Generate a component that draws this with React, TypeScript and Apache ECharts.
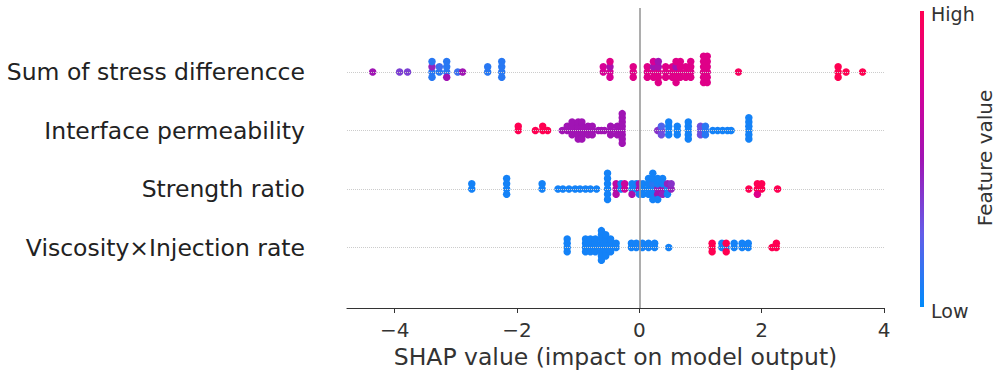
import { useEffect, useRef } from "react";
import * as echarts from "echarts";

const features = [
  "Sum of stress differencce",
  "Interface permeability",
  "Strength ratio",
  "Viscosity×Injection rate",
];
const xTicks = [-4, -2, 0, 2, 4];

// Row 1: Sum of stress difference
const stressShap = [
  -4.36, -3.92, -3.79, -3.39, -3.39, -3.39, -3.39, -3.27, -3.27, -3.15, -3.15, -3.15, -3.15,
  -2.97, -2.89, -2.48, -2.48, -2.25, -2.25, -2.25, -2.25,
  -0.59, -0.59, -0.48, -0.48, -0.48, -0.48, -0.1, -0.1, -0.1,
  0.13, 0.13, 0.13, 0.23, 0.23, 0.23, 0.23, 0.31, 0.31, 0.31, 0.31, 0.31,
  0.43, 0.43, 0.43, 0.54, 0.54, 0.54, 0.6, 0.6, 0.6, 0.6, 0.6,
  0.67, 0.67, 0.67, 0.67, 0.76, 0.76, 0.76, 0.84, 0.84, 0.84, 0.84,
  1.05, 1.05, 1.05, 1.05, 1.05, 1.05, 1.11, 1.11, 1.11, 1.11, 1.11, 1.11,
  1.62, 3.25, 3.25, 3.25, 3.38, 3.65,
];
const stressFeat = [
  0.5, 0.35, 0.35, 0.1, 0.45, 0.1, 0.1, 0.1, 0.15, 0.1, 0.1, 0.5, 0.1,
  0.15, 0.5, 0.1, 0.1, 0.1, 0.1, 0.1, 0.1,
  0.75, 0.75, 0.75, 0.55, 0.75, 0.8, 0.8, 0.8, 0.8,
  0.8, 0.8, 0.8, 0.8, 0.5, 0.8, 0.75, 0.8, 0.55, 0.8, 0.5, 0.8,
  0.8, 0.8, 0.8, 0.8, 0.8, 0.8, 0.8, 0.5, 0.8, 0.8, 0.8,
  0.8, 0.8, 0.8, 0.8, 0.8, 0.8, 0.8, 0.8, 0.8, 0.8, 0.8,
  0.8, 0.8, 0.8, 0.8, 0.8, 0.8, 0.8, 0.8, 0.8, 0.8, 0.8, 0.8,
  0.95, 1, 1, 1, 1, 1,
];

// Row 2: Interface permeability
const permShap = [
  -1.98, -1.98, -1.7, -1.58, -1.58, -1.5,
  -1.26, -1.18, -1.18, -1.1, -1.1, -1.1, -1.1, -1.0, -1.0, -1.0, -1.0, -1.0,
  -0.94, -0.94, -0.94, -0.94, -0.94, -0.84, -0.84, -0.84, -0.77, -0.77, -0.77,
  -0.67, -0.62, -0.57, -0.47, -0.47, -0.47, -0.36, -0.36, -0.36,
  -0.28, -0.28, -0.28, -0.28, -0.28, -0.28, -0.28, -0.28,
  0.3, 0.36, 0.36, 0.36, 0.48, 0.48, 0.48, 0.48, 0.62, 0.62, 0.62,
  0.8, 0.8, 0.8, 0.8, 0.8, 1.0, 1.0, 1.0, 1.08, 1.08, 1.08,
  1.2, 1.28, 1.36, 1.44, 1.5, 1.79, 1.79, 1.79, 1.79, 1.79, 1.79,
];
const permFeat = [
  1, 1, 1, 1, 1, 1,
  0.5, 0.5, 0.5, 0.5, 0.5, 0.5, 0.5, 0.5, 0.5, 0.5, 0.5, 0.5,
  0.5, 0.5, 0.5, 0.5, 0.5, 0.5, 0.5, 0.5, 0.5, 0.5, 0.5,
  0.5, 0.5, 0.5, 0.5, 0.5, 0.5, 0.5, 0.5, 0.5,
  0.5, 0.5, 0.5, 0.5, 0.5, 0.5, 0.5, 0.5,
  0.4, 0.35, 0.2, 0.3, 0.05, 0.05, 0.05, 0.05, 0.05, 0.05, 0.05,
  0.05, 0.05, 0.05, 0.05, 0.05, 0.3, 0.3, 0.3, 0.1, 0.1, 0.1,
  0.05, 0.05, 0.05, 0.05, 0.05, 0.05, 0.05, 0.05, 0.05, 0.05, 0.05,
];

// Row 3: Strength ratio
const strengthShap = [
  -2.74, -2.74, -2.17, -2.17, -2.17, -2.17, -1.59, -1.59,
  -1.33, -1.25, -1.15, -1.05, -0.97, -0.88, -0.8, -0.7,
  -0.52, -0.52, -0.52, -0.52, -0.52, -0.52,
  -0.38, -0.38, -0.38, -0.3, -0.3, -0.24, -0.24, -0.12, -0.12, -0.12, -0.05, -0.05,
  0.0, 0.0, 0.0, 0.06, 0.06, 0.06, 0.15, 0.15, 0.15, 0.15,
  0.22, 0.22, 0.22, 0.22, 0.22, 0.22, 0.3, 0.3, 0.3, 0.3, 0.3,
  0.38, 0.38, 0.38, 0.38, 0.46, 0.46, 0.46, 0.52, 0.52,
  1.79, 1.93, 1.93, 1.93, 2.0, 2.0, 2.26,
];
const strengthFeat = [
  0.05, 0.05, 0.05, 0.05, 0.05, 0.05, 0.05, 0.05,
  0.05, 0.05, 0.05, 0.05, 0.05, 0.05, 0.05, 0.05,
  0.05, 0.05, 0.05, 0.05, 0.05, 0.05,
  0.6, 0.65, 0.6, 0.05, 0.05, 0.7, 0.7, 0.05, 0.05, 0.55, 0.05, 0.05,
  0.55, 0.5, 0.05, 0.05, 0.05, 0.05, 0.05, 0.05, 0.05, 0.05,
  0.05, 0.1, 0.05, 0.05, 0.05, 0.05, 0.45, 0.05, 0.5, 0.05, 0.05,
  0.5, 0.05, 0.45, 0.05, 0.05, 0.45, 0.05, 0.45, 0.4,
  1, 1, 1, 0.8, 1, 1, 1,
];

// Row 4: Viscosity x Injection rate
const viscShap = [
  -1.18, -1.18, -1.18, -1.18, -0.88, -0.88, -0.88, -0.88, -0.8, -0.8, -0.8, -0.8,
  -0.72, -0.72, -0.72, -0.72, -0.62, -0.62, -0.62, -0.62, -0.62, -0.62, -0.62, -0.62,
  -0.55, -0.55, -0.55, -0.55, -0.55, -0.55, -0.47, -0.47, -0.47, -0.47, -0.38, -0.38,
  -0.13, -0.13, -0.05, -0.05, 0.05, 0.05, 0.15, 0.15, 0.25, 0.25, 0.48,
  1.19, 1.19, 1.19, 1.35, 1.35, 1.42, 1.42, 1.42, 1.55, 1.55, 1.68, 1.68, 1.78, 1.78,
  2.17, 2.24, 2.24,
];
const viscFeat = [
  0.05, 0.05, 0.05, 0.05, 0.05, 0.05, 0.05, 0.05, 0.05, 0.05, 0.05, 0.05,
  0.05, 0.05, 0.05, 0.05, 0.05, 0.05, 0.05, 0.05, 0.05, 0.05, 0.05, 0.05,
  0.05, 0.05, 0.05, 0.05, 0.05, 0.05, 0.05, 0.05, 0.05, 0.05, 0.05, 0.05,
  0.05, 0.05, 0.05, 0.05, 0.05, 0.05, 0.05, 0.05, 0.05, 0.05, 0.05,
  1, 1, 1, 0.05, 0.05, 0.05, 1, 1, 0.05, 0.05, 0.05, 0.05, 0.05, 0.05,
  1, 1, 1,
];

const rowShap = [stressShap, permShap, strengthShap, viscShap];
const rowFeat = [stressFeat, permFeat, strengthFeat, viscFeat];

const colorStops: [number, number[]][] = [
  [0, [0, 139, 251]],
  [0.25, [100, 92, 232]],
  [0.5, [160, 20, 180]],
  [0.75, [215, 0, 150]],
  [1, [255, 0, 82]],
];

function colorOf(v: number): string {
  for (let i = 1; i < colorStops.length; i++) {
    const [p1, c1] = colorStops[i];
    const [p0, c0] = colorStops[i - 1];
    if (v <= p1) {
      const t = (v - p0) / (p1 - p0);
      const c = c0.map((a, k) => Math.round(a + (c1[k] - a) * t));
      return `rgb(${c[0]},${c[1]},${c[2]})`;
    }
  }
  const c = colorStops[colorStops.length - 1][1];
  return `rgb(${c[0]},${c[1]},${c[2]})`;
}

// Beeswarm stacking: points with same value stacked in alternating layers
function buildRow(shap: number[], feat: number[], row: number) {
  const layers: number[] = [];
  const count: Record<string, number> = {};
  shap.forEach((x) => {
    const k = x.toFixed(2);
    const layer = count[k] || 0;
    count[k] = layer + 1;
    layers.push(Math.ceil(layer / 2) * (layer % 2 === 1 ? 1 : -1));
  });
  const maxL = Math.max(...layers.map((l) => l + 1));
  const scale = (0.9 * 0.4) / maxL;
  return shap.map((x, i) => ({
    value: [x, row - layers[i] * scale],
    itemStyle: { color: colorOf(feat[i]) },
  }));
}

const FONT = "DejaVu Sans";

export default function App() {
  const ref = useRef<HTMLDivElement>(null);
  useEffect(() => {
    if (!ref.current) return;
    const chart = echarts.init(ref.current, undefined, { renderer: "svg" });
    const points = rowShap.flatMap((s, r) => buildRow(s, rowFeat[r], r));
    chart.setOption({
      animation: false,
      grid: { left: 347, right: 117, top: 8, bottom: 70 },
      xAxis: {
        type: "value",
        min: -4.78,
        max: 4.0,
        splitLine: { show: false },
        axisLine: { onZero: false, lineStyle: { color: "#333", width: 1.2 } },
        axisTick: { customValues: xTicks, length: 5, lineStyle: { color: "#333" } },
        axisLabel: {
          customValues: xTicks,
          margin: 12,
          color: "#333",
          fontSize: 20,
          fontFamily: FONT,
          formatter: (v: number) => (v < 0 ? "\u2212" + Math.abs(v) : String(v)),
        },
        name: "SHAP value (impact on model output)",
        nameLocation: "middle",
        nameGap: 37,
        nameTextStyle: { color: "#333", fontSize: 23.5, fontFamily: FONT },
      },
      yAxis: {
        type: "value",
        inverse: true,
        min: -1.094,
        max: 4.034,
        splitLine: { show: false },
        axisLine: { show: false },
        axisTick: { show: false },
        axisLabel: {
          customValues: [0, 1, 2, 3],
          margin: 42,
          color: "#222",
          fontSize: 23.5,
          fontFamily: FONT,
          formatter: (v: number) => features[Math.round(v)] ?? "",
        },
      },
      series: [
        {
          type: "scatter",
          z: 1,
          data: [],
          markLine: {
            silent: true,
            symbol: "none",
            label: { show: false },
            data: [
              ...features.map((_, i) => ({
                yAxis: i,
                lineStyle: { color: "#cccccc", type: "dotted", width: 1 },
              })),
              { xAxis: 0, lineStyle: { color: "#999999", type: "solid", width: 1.6 } },
            ],
          },
        },
        {
          type: "scatter",
          z: 3,
          symbolSize: 7.5,
          data: points,
          itemStyle: { opacity: 1 },
        },
      ],
      graphic: [
        {
          type: "rect",
          shape: { x: 920, y: 11, width: 4, height: 296 },
          style: {
            fill: new echarts.graphic.LinearGradient(0, 0, 0, 1, [
              { offset: 0, color: "rgb(255,0,82)" },
              { offset: 0.25, color: "rgb(215,0,150)" },
              { offset: 0.5, color: "rgb(160,20,180)" },
              { offset: 0.75, color: "rgb(100,92,232)" },
              { offset: 1, color: "rgb(0,139,251)" },
            ]),
          },
        },
        {
          type: "text",
          x: 931,
          y: 14,
          style: { text: "High", fill: "#333", font: `19px "${FONT}"`, verticalAlign: "middle" },
        },
        {
          type: "text",
          x: 931,
          y: 311,
          style: { text: "Low", fill: "#333", font: `19px "${FONT}"`, verticalAlign: "middle" },
        },
        {
          type: "text",
          x: 985,
          y: 158,
          rotation: Math.PI / 2,
          style: {
            text: "Feature value",
            fill: "#333",
            font: `20px "${FONT}"`,
            align: "center",
            verticalAlign: "middle",
          },
        },
      ],
    });
    return () => chart.dispose();
  }, []);
  return (
    <div
      ref={ref}
      style={{ position: "fixed", left: 0, top: 0, width: 1001, height: 378, background: "#fff" }}
    />
  );
}
